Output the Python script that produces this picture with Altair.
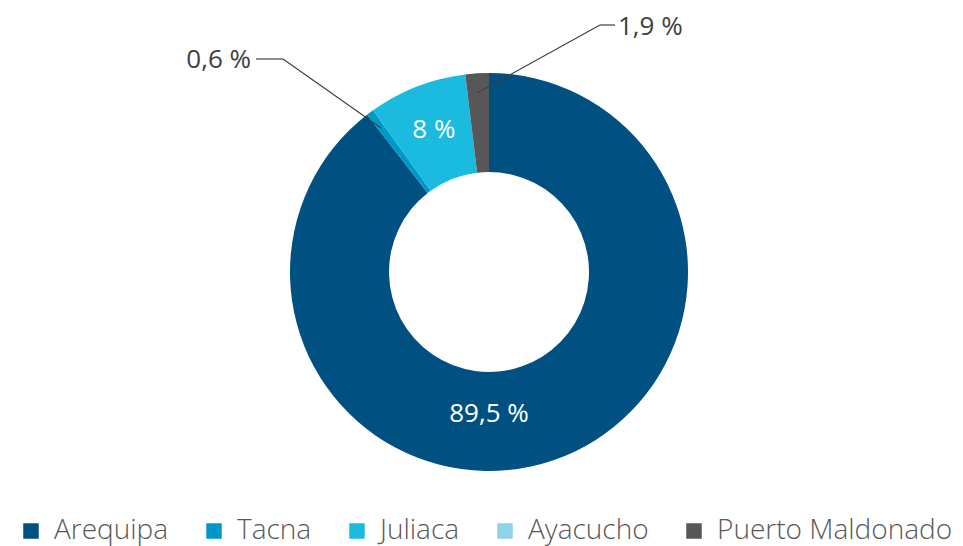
import altair as alt
import pandas as pd

cities = ["Arequipa", "Tacna", "Juliaca", "Ayacucho", "Puerto Maldonado"]
shares = [89.5, 0.6, 8.0, 0.0, 1.9]
labels = ["89,5 %", "0,6 %", "8 %", "0 %", "1,9 %"]
colors = ["#005081", "#0097C9", "#1BBBE0", "#8ED3EA", "#575757"]

df = pd.DataFrame({"city": cities, "share": shares, "label": labels,
                   "ord": list(range(len(cities)))})

CX, CY = 481, 264
FONT = "Open Sans"

theta = alt.Theta("share:Q", stack=True)
order = alt.Order("ord:Q", sort="ascending")
color = alt.Color("city:N", sort=cities,
                  scale=alt.Scale(domain=cities, range=colors),
                  legend=alt.Legend(title=None, orient="none", direction="horizontal",
                                    legendX=9, legendY=509, padding=0,
                                    symbolType="square",
                                    symbolSize=240, symbolStrokeWidth=0,
                                    labelFontSize=28, labelFont=FONT, labelFontWeight=300,
                                    labelColor="#595959", labelOffset=9, labelLimit=0,
                                    columnPadding=31, symbolOpacity=1))

base = alt.Chart(df)

arcs = base.mark_arc(outerRadius=199, innerRadius=100).encode(
    theta=theta, color=color, order=order,
    x=alt.value(CX), y=alt.value(CY))

inner_j = base.mark_text(radius=152, fontSize=26, font=FONT, fontWeight=400,
                         color="white").encode(
    theta=theta, order=order, text="label:N",
    x=alt.value(CX), y=alt.value(CY),
    opacity=alt.condition(alt.datum.city == "Juliaca", alt.value(1), alt.value(0)))

inner_a = base.mark_text(fontSize=26, font=FONT, fontWeight=400, color="white",
                         baseline="middle").encode(
    text="label:N", x=alt.value(CX), y=alt.value(CY + 142),
    opacity=alt.condition(alt.datum.city == "Arequipa", alt.value(1), alt.value(0)))

lc = "#404040"
rules = [
    alt.Chart(df.head(1)).mark_rule(color=lc, strokeWidth=1.2).encode(
        x=alt.value(a), y=alt.value(b), x2=alt.value(c), y2=alt.value(d))
    for (a, b, c, d) in [(248, 51, 275, 51), (275, 51, 373, 120),
                         (469, 85, 592, 17), (592, 17, 607, 17)]
]

out_t = base.transform_filter(alt.datum.city == "Tacna").mark_text(
    fontSize=26, font=FONT, fontWeight=400, color=lc, align="right",
    baseline="middle").encode(text="label:N", x=alt.value(243), y=alt.value(52))
out_p = base.transform_filter(alt.datum.city == "Puerto Maldonado").mark_text(
    fontSize=26, font=FONT, fontWeight=400, color=lc, align="left",
    baseline="middle").encode(text="label:N", x=alt.value(610), y=alt.value(19))

chart = alt.layer(arcs, inner_j, inner_a, *rules, out_t, out_p).properties(
    width=947, height=538, padding=0, background="white",
    autosize=alt.AutoSizeParams(type="none")
).configure_view(stroke=None)

chart.save("out.html", embed_options={"renderer": "svg", "actions": False})
